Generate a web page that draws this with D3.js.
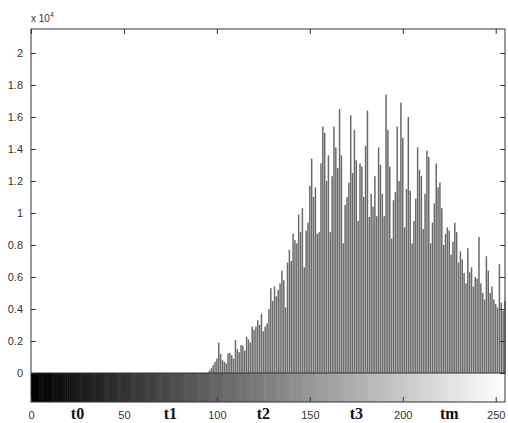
<!DOCTYPE html>
<html>
<head>
<meta charset="utf-8">
<script src="https://cdn.jsdelivr.net/npm/d3@7"></script>
<style>
  body { margin: 0; background: #fff; }
  svg { display: block; }
  .axis text { font-family: "Liberation Sans", Arial, sans-serif; font-size: 11px; fill: #333; }
  .axis line { stroke: #333; }
</style>
</head>
<body>
<div id="graph"></div>
<script>
const w = 508;
const h = 423;

// pixel counts per gray level (0..255)
const levels = d3.range(256);
const counts = [
  0, 0, 0, 0, 0, 0, 0, 0, 0, 0, 0, 0, 0, 0, 0, 0, 0, 0, 0, 0,
  0, 0, 0, 0, 0, 0, 0, 0, 0, 0, 0, 0, 0, 0, 0, 0, 0, 0, 0, 0,
  0, 0, 0, 0, 0, 0, 0, 0, 0, 0, 0, 0, 0, 0, 0, 0, 0, 0, 0, 0,
  0, 0, 0, 0, 0, 0, 0, 0, 0, 0, 0, 0, 0, 0, 0, 0, 0, 0, 0, 0,
  0, 0, 0, 0, 0, 0, 0, 0, 0, 0, 0, 0, 0, 0, 0, 0, 150, 300, 500, 700,
  900, 1900, 1200, 800, 700, 600, 1200, 1250, 1100, 900, 2060, 1500, 1300, 1750, 1700, 1400, 2250, 2100, 1900, 2900,
  2700, 2900, 3300, 3000, 3700, 2600, 2900, 3100, 4000, 5300, 4500, 5400, 4800, 5200, 5600, 6400, 5800, 4100, 6900, 7700,
  7000, 8700, 8300, 8100, 9900, 8800, 10300, 6600, 8900, 9400, 11700, 13400, 11000, 11600, 8700, 8800, 13100, 15400, 15000, 12000,
  13600, 8800, 12300, 15400, 14100, 12800, 16500, 13600, 8100, 10500, 11000, 11900, 16100, 12500, 15200, 13300, 9500, 13100, 12900, 11000,
  14200, 16400, 9750, 11200, 10400, 12300, 9800, 14100, 13000, 11200, 9800, 17400, 15200, 12900, 8400, 10800, 11300, 15400, 12000, 16900,
  14700, 9100, 11500, 16000, 11400, 8100, 9500, 10900, 14100, 12700, 12300, 9000, 11200, 13900, 13500, 8100, 9400, 10600, 13100, 11600,
  11900, 10300, 8000, 8700, 9100, 8900, 7400, 8200, 9400, 8800, 6900, 7600, 7100, 6250, 5600, 7800, 6300, 6600, 5400, 6000,
  5900, 8500, 5600, 5000, 4600, 7300, 6400, 5000, 5400, 4600, 4300, 4100, 6800, 4400, 3900, 4500
];

const xTicks = [0, 50, 100, 150, 200, 250];
const yTicks = [0, 2000, 4000, 6000, 8000, 10000, 12000, 14000, 16000, 18000, 20000];
const tLabels = ["t0", "t1", "t2", "t3", "tm"];
const tLevels = [25, 75, 125, 175, 225];

const box = { left: 31, right: 505, top: 29, base: 373, bottom: 402 };

const svg = d3.select("#graph").append("svg").attr("width", w).attr("height", h);

const x = d3.scaleLinear().domain([0, 255]).range([box.left, box.right]);
const y = d3.scaleLinear().domain([0, 21500]).range([box.base, box.top]);
const gray = d3.scaleLinear().domain([0, 255]).range(["#000", "#fff"]);

// histogram stems
const barW = 1.5;
svg.append("g")
  .selectAll("rect")
  .data(levels.filter((d) => counts[d] > 0))
  .join("rect")
  .attr("x", (d) => x(d) - barW / 2)
  .attr("width", barW)
  .attr("y", (d) => y(counts[d]))
  .attr("height", (d) => y(0) - y(counts[d]))
  .attr("fill", "#6a6a6a");

// gray colorbar under the histogram
const step = x(1) - x(0);
svg.append("g")
  .selectAll("rect")
  .data(levels)
  .join("rect")
  .attr("x", (d) => Math.max(box.left, x(d) - step / 2))
  .attr("width", (d) => Math.min(box.right, x(d) + step / 2 + 0.5) - Math.max(box.left, x(d) - step / 2))
  .attr("y", box.base)
  .attr("height", box.bottom - box.base)
  .attr("fill", (d) => gray(d));

// axes, ticks pointing inward like matlab
svg.append("g")
  .attr("class", "axis")
  .attr("transform", `translate(${box.left},0)`)
  .call(d3.axisLeft(y).tickValues(yTicks).tickSizeInner(-5).tickSizeOuter(0).tickPadding(8)
    .tickFormat((d) => d3.format("~g")(d / 10000)))
  .call((g) => g.select(".domain").remove());

svg.append("g")
  .attr("class", "axis")
  .attr("transform", `translate(${box.right},0)`)
  .call(d3.axisRight(y).tickValues(yTicks).tickSizeInner(-5).tickSizeOuter(0).tickFormat(""))
  .call((g) => g.select(".domain").remove());

svg.append("g")
  .attr("class", "axis")
  .attr("transform", `translate(0,${box.top})`)
  .call(d3.axisTop(x).tickValues(xTicks).tickSizeInner(-5).tickSizeOuter(0).tickFormat(""))
  .call((g) => g.select(".domain").remove());

svg.append("g")
  .attr("class", "axis")
  .attr("transform", `translate(0,${box.bottom})`)
  .call(d3.axisBottom(x).tickValues(xTicks).tickSizeInner(-5).tickSizeOuter(0).tickPadding(9))
  .call((g) => g.select(".domain").remove());

// frames
svg.append("rect")
  .attr("x", box.left).attr("y", box.top)
  .attr("width", box.right - box.left).attr("height", box.bottom - box.top)
  .attr("fill", "none").attr("stroke", "#333");
svg.append("line")
  .attr("x1", box.left).attr("x2", box.right)
  .attr("y1", box.base).attr("y2", box.base)
  .attr("stroke", "#333");

// exponent
const expo = svg.append("text")
  .attr("x", box.left)
  .attr("y", 22)
  .attr("font-family", "Liberation Sans, Arial, sans-serif")
  .attr("font-size", 10)
  .attr("fill", "#333");
expo.append("tspan").text("x 10");
expo.append("tspan").attr("dy", -5).attr("font-size", 7).text("4");

// threshold labels
svg.append("g")
  .selectAll("text")
  .data(tLabels)
  .join("text")
  .attr("x", (d, i) => x(tLevels[i]))
  .attr("y", 419)
  .attr("text-anchor", "middle")
  .attr("font-family", "Liberation Serif, Times New Roman, serif")
  .attr("font-weight", "bold")
  .attr("font-size", 16)
  .attr("fill", "#111")
  .text((d) => d);
</script>
</body>
</html>
